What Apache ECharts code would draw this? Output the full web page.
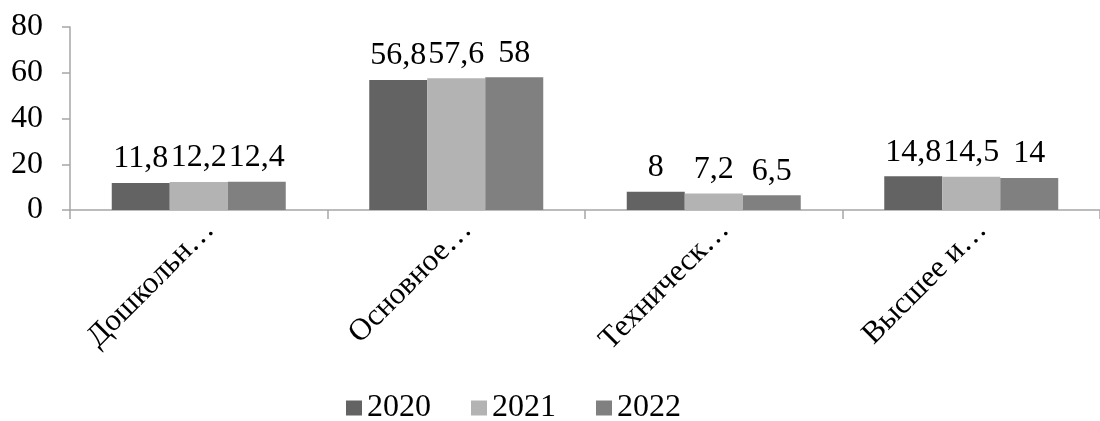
<!DOCTYPE html>
<html>
<head>
<meta charset="utf-8">
<script src="https://cdn.jsdelivr.net/npm/echarts@6/dist/echarts.min.js"></script>
<style>
html,body{margin:0;padding:0;background:#fff;}
#chart{width:1100px;height:421px;}
</style>
</head>
<body>
<div id="chart"></div>
<script>
const categories = ['Дошкольн…', 'Основное…', 'Техническ…', 'Высшее и…'];
const seriesNames = ['2020', '2021', '2022'];
const values2020 = [11.8, 56.8, 8, 14.8];
const values2021 = [12.2, 57.6, 7.2, 14.5];
const values2022 = [12.4, 58, 6.5, 14];
const yTicks = [0, 20, 40, 60, 80];
const colors = ['#636363', '#b3b3b3', '#808080'];

const FONT = '"Liberation Serif", "Times New Roman", serif';
const FS = 32;
const allValues = [values2020, values2021, values2022];

const chart = echarts.init(document.getElementById('chart'), null, {renderer: 'canvas'});
chart.setOption({
  animation: false,
  backgroundColor: '#ffffff',
  textStyle: {fontFamily: FONT},
  grid: {left: 70, top: 27, width: 1041, height: 183, containLabel: false},
  legend: {
    left: 346,
    top: 392,
    padding: 0,
    itemWidth: 16,
    itemHeight: 15,
    itemGap: 40,
    icon: 'rect',
    textStyle: {fontFamily: FONT, fontSize: FS, color: '#000', padding: [0, 0, 0, 0]},
    data: seriesNames
  },
  xAxis: {
    type: 'category',
    data: categories,
    axisLine: {show: true, lineStyle: {color: '#a6a6a6', width: 1.5}},
    axisTick: {show: true, length: 9, lineStyle: {color: '#a6a6a6', width: 1.5}},
    axisLabel: {
      rotate: 45,
      interval: 0,
      margin: 4,
      align: 'right',
      verticalAlign: 'top',
      fontFamily: FONT,
      fontSize: 31,
      color: '#000'
    }
  },
  yAxis: {
    type: 'value',
    min: yTicks[0],
    max: yTicks[yTicks.length - 1],
    interval: 20,
    splitLine: {show: false},
    axisLine: {show: true, lineStyle: {color: '#a6a6a6', width: 1.5}},
    axisTick: {show: true, length: 8, lineStyle: {color: '#a6a6a6', width: 1.5}},
    axisLabel: {
      margin: 27,
      fontFamily: FONT,
      fontSize: FS,
      color: '#000'
    }
  },
  series: seriesNames.map((name, i) => ({
    name: name,
    type: 'bar',
    data: allValues[i],
    barWidth: 58,
    barGap: '0%',
    itemStyle: {color: colors[i]},
    label: {
      show: true,
      position: 'top',
      distance: 8,
      fontFamily: FONT,
      fontSize: FS,
      color: '#000',
      formatter: p => String(p.value).replace('.', ',')
    }
  }))
});
</script>
</body>
</html>
